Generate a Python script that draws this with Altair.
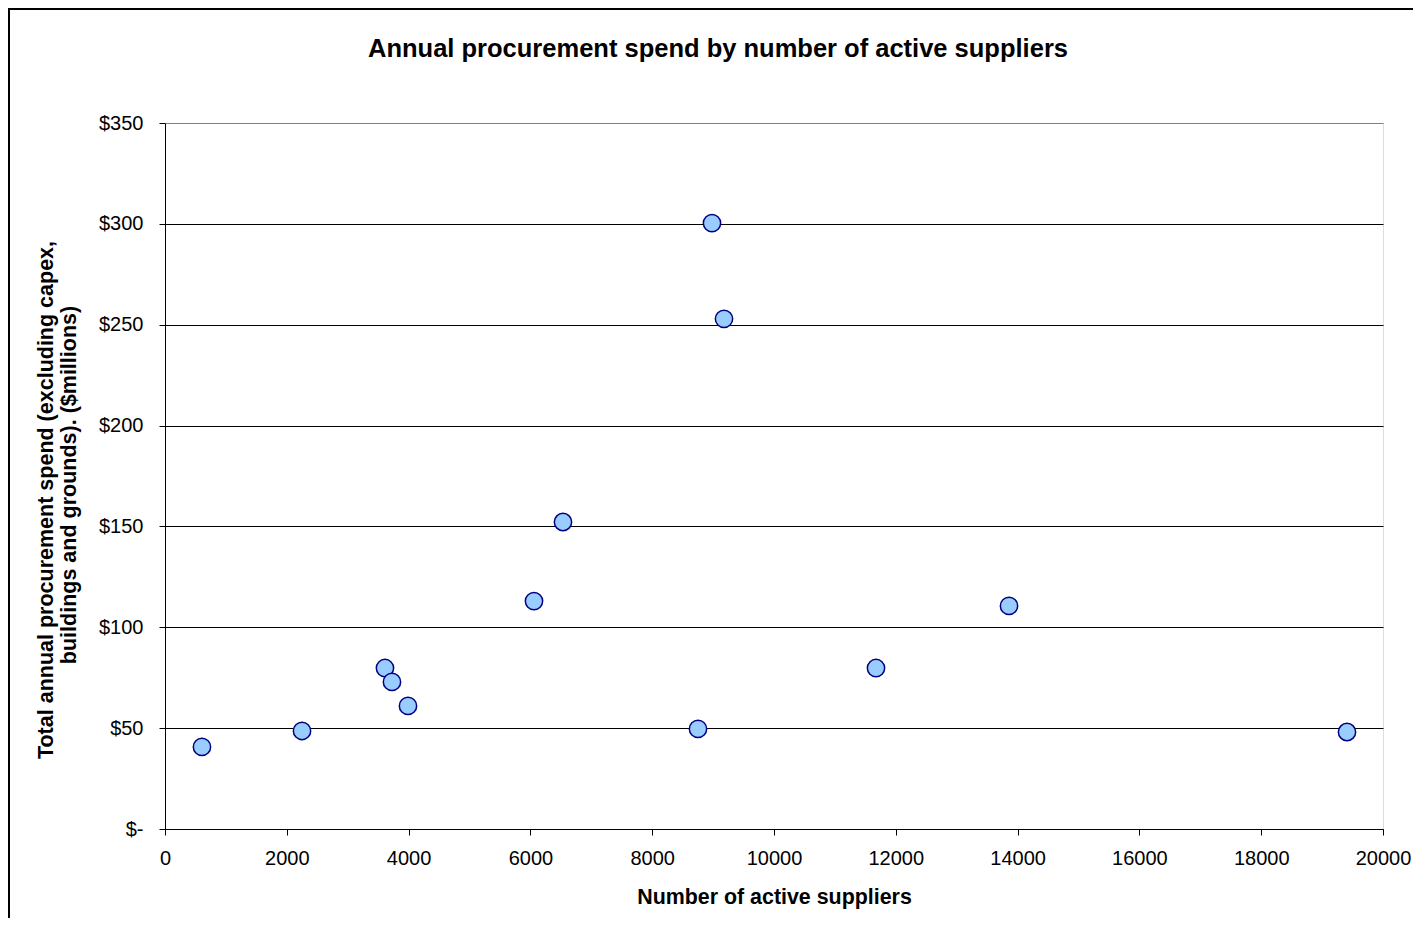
import altair as alt
import pandas as pd

suppliers = [607, 2250, 3612, 3727, 3990, 6059, 6535, 8752, 8982, 9179, 11675, 13859, 19409]
spend = [40.7, 48.6, 79.8, 72.9, 61.0, 113.0, 152.2, 49.6, 300.4, 252.9, 79.8, 110.6, 48.1]
y_ticks = [0, 50, 100, 150, 200, 250, 300, 350]
x_ticks = [0, 2000, 4000, 6000, 8000, 10000, 12000, 14000, 16000, 18000, 20000]
chart_title = "Annual procurement spend by number of active suppliers"
x_title = "Number of active suppliers"
y_title_1 = "Total annual procurement spend (excluding capex,"
y_title_2 = "buildings and grounds). ($millions)"

df = pd.DataFrame({"suppliers": suppliers, "spend": spend})
title_df = pd.DataFrame({"t": [chart_title]})
yt1_df = pd.DataFrame({"t": [y_title_1]})
yt2_df = pd.DataFrame({"t": [y_title_2]})
FONT = "Liberation Sans"

points = alt.Chart(df).mark_point(
    filled=True, shape="circle", size=300, fill="#99CCFF",
    stroke="#000080", strokeWidth=1.5, opacity=1
).encode(
    x=alt.X("suppliers:Q",
            scale=alt.Scale(domain=[0, 20000], nice=False, zero=True),
            axis=alt.Axis(values=x_ticks, format="d", title=x_title,
                          grid=False, labelFlush=False, labelFontSize=20, labelColor="black",
                          labelPadding=13, tickSize=6, tickColor="black", domainColor="black",
                          titleFontSize=21.4, titleFontWeight="bold", titleColor="black",
                          titlePadding=18, labelFont=FONT, titleFont=FONT)),
    y=alt.Y("spend:Q",
            scale=alt.Scale(domain=[0, 350], nice=False),
            axis=alt.Axis(values=y_ticks,
                          labelExpr="datum.value == 0 ? '$-' : '$' + datum.value",
                          title=None,
                          grid=True,
                          gridColor={"condition": {"test": "datum.value == 350", "value": "#808080"},
                                     "value": "#000000"},
                          gridOpacity=1, gridWidth=1,
                          labelFontSize=20, labelColor="black", labelPadding=16,
                          tickSize=6, tickColor="black", domainColor="black",
                          labelFont=FONT)),
)

title_text = alt.Chart(title_df).mark_text(
    font=FONT, fontSize=25.5, fontWeight="bold", color="black",
    align="center", baseline="alphabetic"
).encode(text="t:N", x=alt.value(553), y=alt.value(-66))

yt1 = alt.Chart(yt1_df).mark_text(
    font=FONT, fontSize=21.5, fontWeight="bold", color="black",
    align="center", baseline="middle", angle=270
).encode(text="t:N", x=alt.value(-118), y=alt.value(377))

yt2 = alt.Chart(yt2_df).mark_text(
    font=FONT, fontSize=21.5, fontWeight="bold", color="black",
    align="center", baseline="middle", angle=270
).encode(text="t:N", x=alt.value(-95), y=alt.value(362))

frame_top = alt.Chart(df).mark_rule(color="black", strokeWidth=2).encode(
    x=alt.value(-157), x2=alt.value(1260), y=alt.value(-114))
frame_left = alt.Chart(df).mark_rule(color="black", strokeWidth=2).encode(
    x=alt.value(-156), y=alt.value(-115), y2=alt.value(820))

chart = alt.layer(frame_top, frame_left, title_text, yt1, yt2, points).properties(
    width=1218, height=706,
    autosize=alt.AutoSizeParams(type="none"),
    padding={"left": 157, "top": 115, "right": 30, "bottom": 89},
).configure_view(stroke="#808080", strokeWidth=1.5).configure(background="white")

chart.save("out.html", embed_options={"renderer": "svg", "actions": False})
